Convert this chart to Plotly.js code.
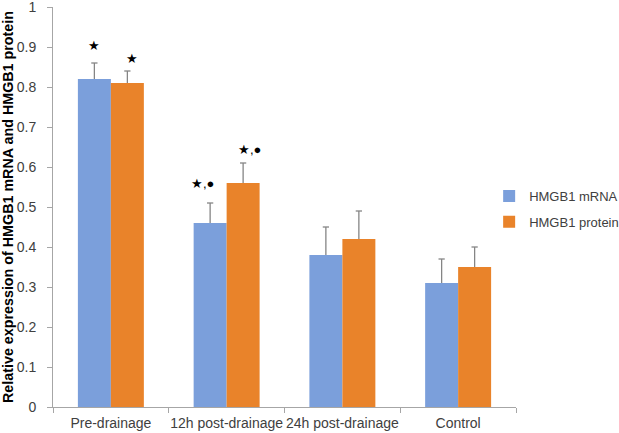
<!DOCTYPE html>
<html>
<head>
<meta charset="utf-8">
<script src="https://cdn.plot.ly/plotly-3.0.1.min.js"></script>
<style>html,body{margin:0;padding:0;background:#fff;}#chart{width:619px;height:433px;}</style>
</head>
<body>
<div id="chart"></div>
<script>
const categories = ["Pre-drainage", "12h post-drainage", "24h post-drainage", "Control"];
const mrnaValues = [0.82, 0.46, 0.38, 0.31];
const mrnaErrors = [0.04, 0.05, 0.07, 0.06];
const proteinValues = [0.81, 0.56, 0.42, 0.35];
const proteinErrors = [0.03, 0.05, 0.07, 0.05];
const mrnaMarks = ["★", "★,●", "", ""];
const proteinMarks = ["★", "★,●", "", ""];
const yTicks = [0, 0.1, 0.2, 0.3, 0.4, 0.5, 0.6, 0.7, 0.8, 0.9, 1];
const yTickText = ["0", "0.1", "0.2", "0.3", "0.4", "0.5", "0.6", "0.7", "0.8", "0.9", "1"];

const font = "Liberation Sans, Arial, sans-serif";
const bargap = 0.43;
const barW = (1 - bargap) / 2;
const capHalf = 0.027;

function errorPath(values, errors, offset) {
  const xs = [], ys = [];
  values.forEach((v, i) => {
    const xc = i + offset;
    const top = v + errors[i];
    xs.push(xc, xc, null, xc - capHalf, xc + capHalf, null);
    ys.push(v, top, null, top, top, null);
  });
  return {xs, ys};
}
const mErr = errorPath(mrnaValues, mrnaErrors, -barW / 2);
const pErr = errorPath(proteinValues, proteinErrors, barW / 2);

const traces = [
  {type: "bar", name: "HMGB1 mRNA", x: categories, y: mrnaValues, legendgroup: "a",
   marker: {color: "#7b9fdb", line: {width: 0}}},
  {type: "bar", name: "HMGB1 protein", x: categories, y: proteinValues, legendgroup: "b",
   marker: {color: "#e9832a", line: {width: 0}}},
  {type: "scatter", mode: "lines", x: mErr.xs, y: mErr.ys, xaxis: "x2", showlegend: false,
   line: {color: "#858585", width: 1.3}, connectgaps: false, hoverinfo: "skip"},
  {type: "scatter", mode: "lines", x: pErr.xs, y: pErr.ys, xaxis: "x2", showlegend: false,
   line: {color: "#858585", width: 1.3}, connectgaps: false, hoverinfo: "skip"}
];

const mShift = [8, 10, 0, 0];
const pShift = [3, 4, 0, 0];
const mX = [0, -8, 0, 0];
const pX = [5, 6, 0, 0];
const annotations = [];
categories.forEach((c, i) => {
  if (mrnaMarks[i]) annotations.push({x: i - barW / 2, y: mrnaValues[i] + mrnaErrors[i], xref: "x2", yref: "y", text: mrnaMarks[i], showarrow: false, yanchor: "bottom", yshift: mShift[i], xshift: mX[i], font: {family: font, size: 13, color: "#000"}});
  if (proteinMarks[i]) annotations.push({x: i + barW / 2, y: proteinValues[i] + proteinErrors[i], xref: "x2", yref: "y", text: proteinMarks[i], showarrow: false, yanchor: "bottom", yshift: pShift[i], xshift: pX[i], font: {family: font, size: 13, color: "#000"}});
});

const layout = {
  width: 619, height: 433,
  margin: {l: 53, r: 103, t: 7, b: 26, autoexpand: false},
  paper_bgcolor: "#fff", plot_bgcolor: "#fff",
  barmode: "group", bargap: bargap, bargroupgap: 0,
  showlegend: true,
  legend: {x: 0.942, xanchor: "left", y: 0.495, yanchor: "middle", traceorder: "grouped", tracegroupgap: 6,
           font: {family: font, size: 13, color: "#404040"}, bgcolor: "rgba(0,0,0,0)"},
  xaxis: {
    type: "category", tickson: "boundaries", ticks: "outside", ticklen: 5, tickcolor: "#a6a6a6", tickangle: 0,
    showline: true, linecolor: "#a6a6a6", linewidth: 1, showgrid: false, ticklabelstandoff: 3,
    tickfont: {family: font, size: 14, color: "#404040"}
  },
  xaxis2: {overlaying: "x", range: [-0.5, categories.length - 0.5], visible: false, showgrid: false, zeroline: false},
  yaxis: {
    range: [0, 1], tickmode: "array", tickvals: yTicks, ticktext: yTickText, ticks: "outside", ticklen: 5, tickcolor: "#a6a6a6",
    showline: true, linecolor: "#a6a6a6", linewidth: 1, showgrid: false, zeroline: false,
    ticklabeloverflow: "allow", ticklabelstandoff: 8,
    tickfont: {family: font, size: 14, color: "#404040"},
    title: {text: "<b>Relative expression of HMGB1 mRNA and HMGB1 protein</b>", font: {family: font, size: 14.3, color: "#000"}, standoff: 4}
  },
  annotations: annotations
};

Plotly.newPlot("chart", traces, layout, {displayModeBar: false, staticPlot: true});
</script>
</body>
</html>
